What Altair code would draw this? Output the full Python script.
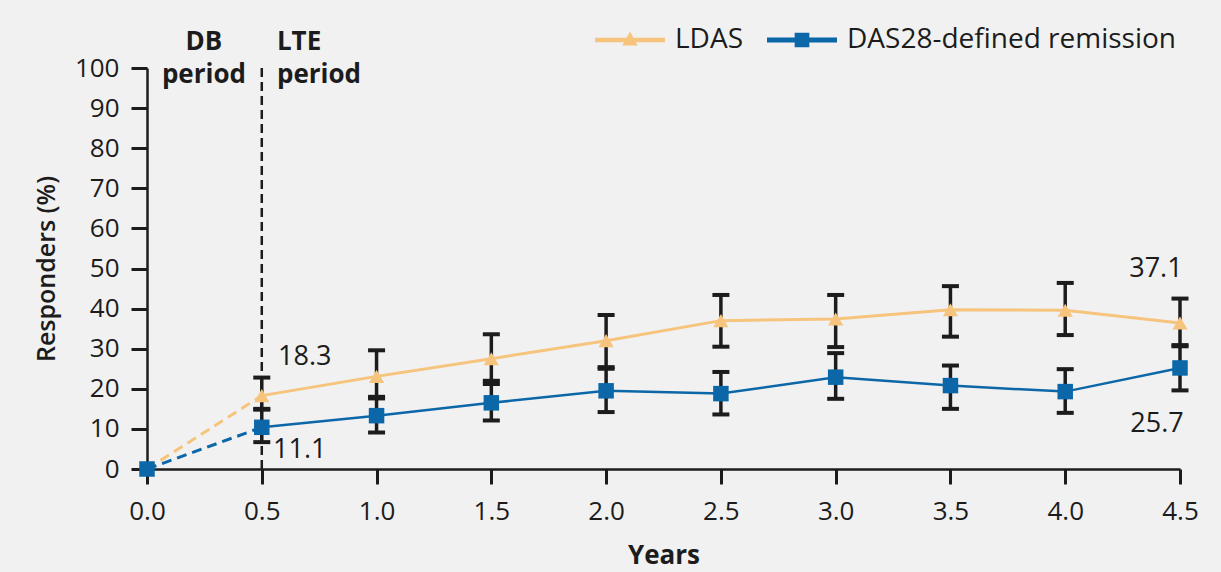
import altair as alt
import pandas as pd

# ---- data ----
years = [0.0, 0.5, 1.0, 1.5, 2.0, 2.5, 3.0, 3.5, 4.0, 4.5]
ldas = [0.0, 18.3, 23.1, 27.5, 32.0, 37.0, 37.4, 39.7, 39.6, 36.4]
ldas_lo = [None, 15.0, 18.0, 22.0, 25.4, 30.5, 30.4, 33.0, 33.4, 30.9]
ldas_hi = [None, 22.8, 29.6, 33.6, 38.4, 43.4, 43.4, 45.6, 46.4, 42.5]
das = [0.0, 10.4, 13.3, 16.5, 19.5, 18.8, 22.9, 20.8, 19.3, 25.2]
das_lo = [None, 6.7, 9.1, 12.1, 14.2, 13.6, 17.5, 15.0, 14.0, 19.6]
das_hi = [None, 14.8, 17.6, 21.2, 25.0, 24.2, 28.9, 25.8, 24.9, 30.6]

series_names = ["LDAS", "DAS28-defined remission"]
x_ticks = [0.0, 0.5, 1.0, 1.5, 2.0, 2.5, 3.0, 3.5, 4.0, 4.5]
y_ticks = list(range(0, 101, 10))

value_labels = ["18.3", "11.1", "37.1", "25.7"]
value_label_x = [0.571, 0.549, 4.395, 4.40]
value_label_y = [25.9, 2.7, 47.9, 9.2]
value_label_align = ["left", "left", "center", "center"]

period_texts = ["DB", "period", "LTE", "period"]
period_x = [0.248, 0.248, 0.566, 0.566]
period_y = [104.5, 96.3, 104.5, 96.3]
period_align = ["center", "center", "left", "left"]

FONT = "Open Sans"
LDAS_C = "#F6C47C"
DAS_C = "#0B67A8"
INK = "#1c1c1c"
BG = "#f1f1f1"


def X(field="x:Q"):
    return alt.X(
        field,
        scale=alt.Scale(domain=[0, 4.5], nice=False, zero=False),
        axis=alt.Axis(
            values=x_ticks, format=".1f", title="Years", grid=False,
            domainColor=INK, domainWidth=2.5, tickColor=INK, tickWidth=3,
            tickSize=15, labelFontSize=26, labelFont=FONT, labelColor=INK,
            labelPadding=14, titleFont=FONT, titleFontSize=26,
            titleFontWeight="bold", titleColor=INK, titlePadding=18,
            labelFlush=False,
        ),
    )


def Y(field="y:Q"):
    return alt.Y(
        field,
        scale=alt.Scale(domain=[0, 100], nice=False),
        axis=alt.Axis(
            values=y_ticks, title="Responders (%)", grid=False,
            domainColor=INK, domainWidth=2.5, tickColor=INK, tickWidth=3,
            tickSize=16, labelFontSize=26, labelFont=FONT, labelColor=INK,
            labelPadding=12, titleFont=FONT, titleFontSize=25,
            titleFontWeight=600, titleColor=INK, titlePadding=15,
            labelFlush=False,
        ),
    )


def series_df(xs, ys):
    return pd.DataFrame({"x": xs, "y": ys})


# dashed segments 0 -> 0.5, solid segments from 0.5
ldas_dash = series_df(years[:2], ldas[:2])
das_dash = series_df(years[:2], das[:2])
ldas_solid = series_df(years[1:], ldas[1:])
das_solid = series_df(years[1:], das[1:])

err_rows = []
caps_rows = []
for i, yr in enumerate(years):
    for lo, hi in ((ldas_lo[i], ldas_hi[i]), (das_lo[i], das_hi[i])):
        if lo is None:
            continue
        err_rows.append({"x": yr, "lo": lo, "hi": hi})
        caps_rows.append({"x": yr, "v": lo})
        caps_rows.append({"x": yr, "v": hi})
err_df = pd.DataFrame(err_rows)
caps_df = pd.DataFrame(caps_rows)

period_rule = pd.DataFrame({"x": [0.5], "y": [0.0], "y2": [100.8]})

vl_df = pd.DataFrame({"x": value_label_x, "y": value_label_y,
                      "t": value_labels, "a": value_label_align})
pl_df = pd.DataFrame({"x": period_x, "y": period_y,
                      "t": period_texts, "a": period_align})

legend_df = pd.DataFrame({"x": [0.0, 0.0], "y": [0.0, 0.0], "s": series_names})

tri_path = "M-1,-0.065H1V0.065H-1Z M0,-0.24L0.22,0.16H-0.22Z"
sq_path = "M-1,-0.07H1V0.07H-1Z M-0.21,-0.21H0.21V0.21H-0.21Z"

leg = alt.Legend(
    orient="none", legendX=448, legendY=-63, direction="horizontal",
    title=None, symbolSize=4900, symbolStrokeWidth=0, symbolOpacity=1,
    labelFontSize=28, labelFont=FONT, labelColor=INK, labelOffset=10,
    labelLimit=0, columnPadding=24, padding=0,
)

layers = [
    alt.Chart(period_rule).mark_rule(color=INK, strokeWidth=2.5, strokeDash=[9, 5]).encode(
        x=X(), y=Y(), y2="y2:Q"),
    alt.Chart(ldas_dash).mark_line(color=LDAS_C, strokeWidth=3, strokeDash=[10, 6]).encode(x=X(), y=Y()),
    alt.Chart(das_dash).mark_line(color=DAS_C, strokeWidth=3, strokeDash=[10, 6]).encode(x=X(), y=Y()),
    alt.Chart(ldas_solid).mark_line(color=LDAS_C, strokeWidth=3).encode(x=X(), y=Y()),
    alt.Chart(das_solid).mark_line(color=DAS_C, strokeWidth=2.5).encode(x=X(), y=Y()),
    alt.Chart(err_df).mark_rule(color=INK, strokeWidth=3.5).encode(x=X(), y=Y("lo:Q"), y2="hi:Q"),
    alt.Chart(caps_df).mark_tick(color=INK, orient="horizontal", size=17, thickness=4, opacity=1).encode(
        x=X(), y=Y("v:Q")),
    alt.Chart(series_df(years, ldas)).mark_point(
        shape="triangle-up", filled=True, size=230, color=LDAS_C, opacity=1).encode(x=X(), y=Y()),
    alt.Chart(series_df(years, das)).mark_point(
        shape="square", filled=True, size=240, color=DAS_C, opacity=1).encode(x=X(), y=Y()),
    alt.Chart(legend_df).mark_point(filled=True, opacity=0, strokeWidth=0).encode(
        x=X(), y=Y(),
        color=alt.Color("s:N", scale=alt.Scale(domain=series_names, range=[LDAS_C, DAS_C]), legend=leg),
        shape=alt.Shape("s:N", scale=alt.Scale(domain=series_names, range=[tri_path, sq_path]), legend=leg),
    ),
]

for al in ("left", "center"):
    layers.append(
        alt.Chart(vl_df[vl_df["a"] == al]).mark_text(
            align=al, baseline="alphabetic", font=FONT, fontSize=27, color=INK).encode(
            x=X(), y=Y(), text="t:N"))
for al in ("left", "center"):
    layers.append(
        alt.Chart(pl_df[pl_df["a"] == al]).mark_text(
            align=al, baseline="alphabetic", font=FONT, fontSize=26, fontWeight="bold", color=INK).encode(
            x=X(), y=Y(), text="t:N"))

chart = alt.layer(*layers).properties(
    width=1033, height=401,
    autosize=alt.AutoSizeParams(type="none"),
    padding={"left": 147, "top": 68, "right": 41, "bottom": 103},
    background=BG,
).configure_view(stroke=None)

chart.save("out.html", embed_options={"renderer": "svg", "actions": False})
